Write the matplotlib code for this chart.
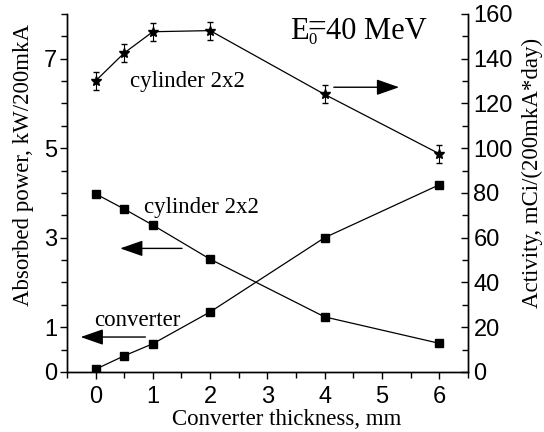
import matplotlib.pyplot as plt

plt.rcParams['font.family'] = 'Liberation Serif'

thickness = [0, 0.5, 1, 2, 4, 6]
# absorbed power, kW/200mkA (left axis)
power_cylinder = [3.98, 3.64, 3.28, 2.52, 1.23, 0.64]
power_converter = [0.06, 0.36, 0.63, 1.34, 3.0, 4.18]
# activity, mCi/(200mkA*day) (right axis)
activity = [130, 142.5, 152, 152.5, 124, 97.5]
activity_err = [4, 4, 4, 4, 4, 4]

left_ticks = [0, 1, 3, 5, 7]
right_ticks = [0, 20, 40, 60, 80, 100, 120, 140, 160]

fig = plt.figure(figsize=(5.44, 4.32), dpi=100)
ax = fig.add_axes([0.123, 0.139, 0.737, 0.829])
ax2 = ax.twinx()

ax.plot(thickness, power_cylinder, 'k-', lw=0.9, marker='s', ms=5.5)
ax.plot(thickness, power_converter, 'k-', lw=0.9, marker='s', ms=5.5)
ax2.errorbar(thickness, activity, yerr=activity_err, fmt='k-', lw=0.9,
             marker='*', ms=7, capsize=2.5, elinewidth=0.8)

ax.set_xlim(-0.5, 6.5)
ax.set_ylim(0, 8)
ax2.set_ylim(0, 160)

ax.set_xticks([0, 1, 2, 3, 4, 5, 6])
ax.set_xticks([x + 0.5 for x in range(-1, 7)], minor=True)
ax.set_yticks(left_ticks)
ax.set_yticks([y * 0.5 for y in range(17)], minor=True)
ax2.set_yticks(right_ticks)
ax2.set_yticks(range(0, 161, 10), minor=True)

for a in (ax, ax2):
    a.spines['top'].set_visible(False)
    for s in a.spines.values():
        s.set_linewidth(1.0)

ax.tick_params(axis='both', which='both', direction='out', labelsize=17, width=1)
ax.tick_params(axis='both', which='major', length=5)
ax.tick_params(axis='both', which='minor', length=4)
ax.tick_params(axis='y', pad=2)
ax.tick_params(axis='x', pad=5)
ax2.tick_params(axis='y', which='both', direction='in', labelsize=17, width=1, pad=4)
ax2.tick_params(axis='y', which='major', length=5)
ax2.tick_params(axis='y', which='minor', length=4)
for lab in ax.get_xticklabels() + ax.get_yticklabels() + ax2.get_yticklabels():
    lab.set_family('Liberation Sans')

ax.set_xlabel('Converter thickness, mm', fontsize=16.5)
ax.set_ylabel('Absorbed power, kW/200mkA', fontsize=16.5, va='center')
ax2.set_ylabel('Activity, mCi/(200mkA*day)', fontsize=16.5, va='center')
ax.xaxis.set_label_coords(0.549, -0.103)
ax.yaxis.set_label_coords(-0.108, 0.578)
ax2.yaxis.set_label_coords(1.160, 0.556)

# labels and arrows
ax.text(0.61, 6.36, 'cylinder 2x2', fontsize=16.5, ha='left', va='baseline')
ax.text(0.84, 3.56, 'cylinder 2x2', fontsize=16.5, ha='left', va='baseline')
ax.text(-0.03, 1.02, 'converter', fontsize=16.5, ha='left', va='baseline')
arrow = dict(arrowstyle='-|>,head_length=1.0,head_width=0.35', color='k', lw=1,
             mutation_scale=14, shrinkA=0, shrinkB=0)
ax.annotate('', xy=(5.3, 6.36), xytext=(4.16, 6.36), arrowprops=arrow)
ax.annotate('', xy=(0.43, 2.76), xytext=(1.51, 2.76), arrowprops=arrow)
ax.annotate('', xy=(-0.26, 0.78), xytext=(0.87, 0.78), arrowprops=arrow)

# E0 = 40 MeV
ax.text(3.39, 7.44, 'E', fontsize=22, ha='left', va='baseline')
ax.text(3.72, 7.32, '0', fontsize=12, ha='left', va='baseline')
ax.text(3.86, 7.49, '=', fontsize=24, ha='center', va='baseline')
ax.text(4.02, 7.44, '40 MeV', fontsize=22, ha='left', va='baseline')

fig.savefig('out.png', dpi=100)
